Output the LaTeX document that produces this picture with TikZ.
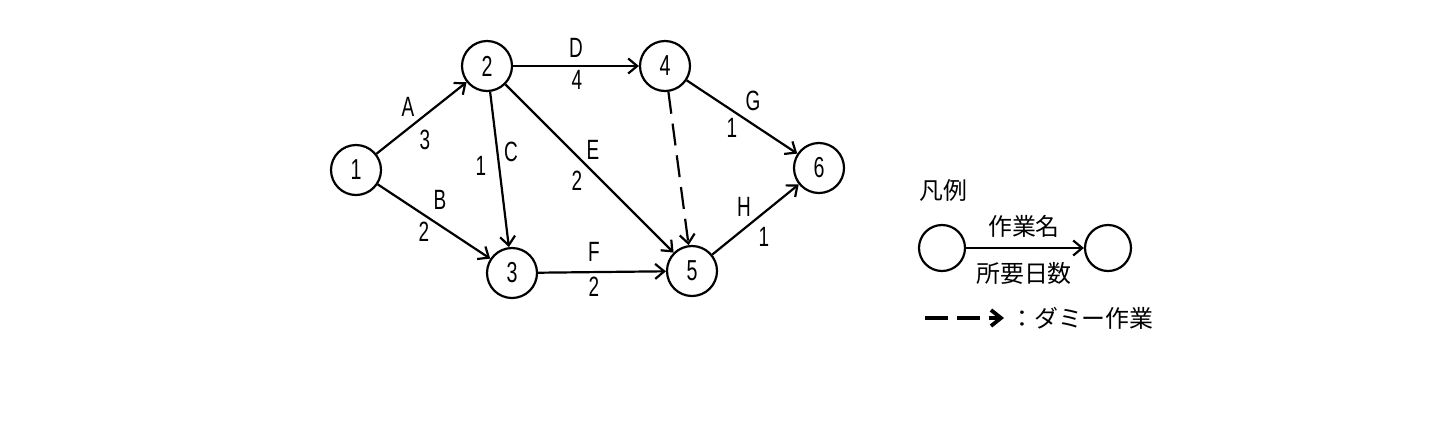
\documentclass[tikz,border=0pt]{standalone}
\usepackage{fontspec}
\setmainfont{Noto Sans CJK JP}
\newfontfamily\latn[FakeStretch=0.68]{Liberation Sans}
\usetikzlibrary{arrows.meta}

\tikzset{
  evt/.style={circle,draw,line width=2.2bp,minimum size=50bp,inner sep=0pt,font=\latn\fontsize{29}{30}\selectfont},
  lbl/.style={inner sep=0pt,font=\latn\fontsize{28}{30}\selectfont},
  jp/.style={inner sep=0pt,font=\fontsize{24}{26}\selectfont},
  act/.style={line width=2.2bp,-{Straight Barb[length=9bp,width=15bp]}},
  dummy/.style={act,dash pattern=on 22bp off 10bp},
}

\begin{document}
\begin{tikzpicture}[x=1bp,y=-1bp]
  \path[use as bounding box] (0,0) rectangle (1432,420);
  \fill[white] (0,0) rectangle (1432,420);

  % network
  \node[evt] (n1) at (356,170) {1};
  \node[evt] (n2) at (487,66) {2};
  \node[evt] (n3) at (512,273) {3};
  \node[evt] (n4) at (665,66) {4};
  \node[evt] (n5) at (692,271) {5};
  \node[evt] (n6) at (819,168) {6};

  \draw[act] (n1) -- (n2);
  \draw[act] (n1) -- (n3);
  \draw[act] (n2) -- (n3);
  \draw[act] (n2) -- (n4);
  \draw[act] (n2) -- (n5);
  \draw[act] (n3) -- (n5);
  \draw[dummy] (n4) -- (n5);
  \draw[act] (n4) -- (n6);
  \draw[act] (n5) -- (n6);

  \node[lbl] (lA) at (408,107) {A};  \node[lbl] (dA) at (425,140) {3};
  \node[lbl] (lB) at (440,200) {B};  \node[lbl] (dB) at (424,232) {2};
  \node[lbl] (lC) at (511,152) {C};  \node[lbl] (dC) at (481,166) {1};
  \node[lbl] (lD) at (576,48) {D};   \node[lbl] (dD) at (577,80) {4};
  \node[lbl] (lE) at (593,150) {E};  \node[lbl] (dE) at (577,181) {2};
  \node[lbl] (lF) at (594,252) {F};  \node[lbl] (dF) at (594,287) {2};
  \node[lbl] (lG) at (753,101) {G};  \node[lbl] (dG) at (732,128) {1};
  \node[lbl] (lH) at (744,207) {H};  \node[lbl] (dH) at (764,237) {1};

  % legend
  \node[jp] (legT) at (943,190) {凡例};
  \node[evt,minimum size=46bp] (lg1) at (942,248) {};
  \node[evt,minimum size=46bp] (lg2) at (1108,248) {};
  \draw[act] (lg1) -- (lg2);
  \node[jp] (legN) at (1024,226) {作業名};
  \node[jp] (legD) at (1024,273) {所要日数};

  \coordinate (dmA) at (925,318);
  \coordinate (dmB) at (1004,318);
  \draw[line width=3.8bp,dash pattern=on 23bp off 9bp,-{Straight Barb[length=10bp,width=16bp]}] (dmA) -- (dmB);
  \node[jp,anchor=west] (legM) at (1010,318) {：ダミー作業};
\end{tikzpicture}
\end{document}
